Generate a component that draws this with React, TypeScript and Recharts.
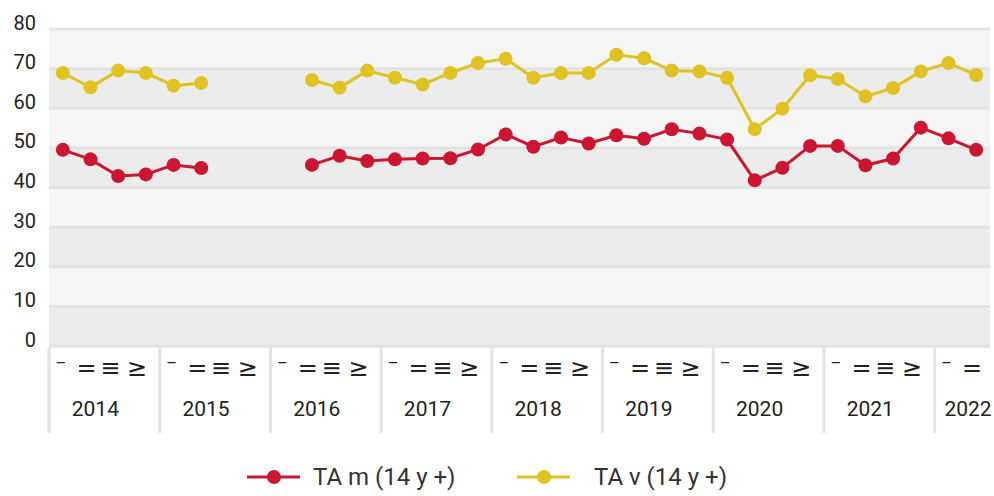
import React from 'react';
import { LineChart, Line, XAxis, YAxis, CartesianGrid, Legend } from 'recharts';

const years = ['2014', '2015', '2016', '2017', '2018', '2019', '2020', '2021', '2022'];
const quartersPerYear = [4, 4, 4, 4, 4, 4, 4, 4, 2];
const quarterSymbols = ['–', '=', '≡', '≥'];
const yTicks = [0, 10, 20, 30, 40, 50, 60, 70, 80];

// TA m (14 y +)
const taM = [
  49.5, 47.1, 42.9, 43.3, 45.7, 44.9, null, null, null, 45.7, 48.0, 46.7, 47.1, 47.3, 47.4, 49.6, 53.4,
  50.3, 52.6, 51.1, 53.2, 52.3, 54.7, 53.6, 52.1, 41.8, 45.0, 50.5, 50.5, 45.6, 47.3, 55.1, 52.4, 49.5,
];
// TA v (14 y +)
const taV = [
  68.9, 65.3, 69.5, 68.9, 65.7, 66.4, null, null, null, 67.1, 65.2, 69.5, 67.7, 66.0, 68.9, 71.4, 72.5,
  67.7, 68.9, 68.9, 73.5, 72.6, 69.5, 69.3, 67.7, 54.7, 59.9, 68.3, 67.4, 63.0, 65.1, 69.3, 71.4, 68.4,
];

const periods: { year: string; q: number; yearIdx: number }[] = [];
years.forEach((y, yi) => {
  for (let q = 0; q < quartersPerYear[yi]; q++) periods.push({ year: y, q, yearIdx: yi });
});

const data = periods.map((p, i) => ({
  period: `${p.year}-${p.q + 1}`,
  m: taM[i],
  v: taV[i],
}));

const W = 994;
const H = 496;
const LEFT = 49;
const RIGHT = 990;
const TOP = 29;
const PLOT_BOTTOM = 346;
const BW = (RIGHT - LEFT) / data.length;
const RED = '#cc1530';
const YELLOW = '#e0c222';
const FONT = 'Roboto, sans-serif';
const qdx = [-2, -4, -8, -9];

const XTick = (props: any) => {
  const { x, index } = props;
  const p = periods[index];
  if (!p) return null;
  const start = x - BW / 2;
  let yearX = start + 2 * BW - 9;
  yearX = Math.min(yearX, RIGHT - 22);
  return (
    <g>
      {p.q === 0 && (
        <line x1={start} x2={start} y1={PLOT_BOTTOM + 1.5} y2={433} stroke="#e3e3e3" strokeWidth={3} />
      )}
      <text
        x={x + qdx[p.q]}
        y={p.q === 0 ? 368 : 376}
        textAnchor="middle"
        fontSize={p.q === 0 ? 20 : 24}
        fill="#222"
        fontFamily="DejaVu Sans"
      >
        {quarterSymbols[p.q]}
      </text>
      {p.q === 0 && (
        <text x={yearX} y={416} textAnchor="middle" fontSize={21} fill="#222">
          {p.year}
        </text>
      )}
    </g>
  );
};

const YTick = (props: any) => {
  const { y, payload } = props;
  return (
    <text x={36} y={y + 0.5} textAnchor="end" fontSize={20} fill="#222">
      {payload.value}
    </text>
  );
};

const legendLayout = [
  { left: 247, gap: 13 },
  { left: 517, gap: 24 },
];

const LegendContent = (props: any) => {
  const items = props.payload || [];
  return (
    <div style={{ position: 'relative', height: 40, fontFamily: FONT }}>
      {items.map((it: any, i: number) => (
        <div
          key={it.value}
          style={{
            position: 'absolute',
            left: legendLayout[i].left,
            top: 0,
            display: 'flex',
            alignItems: 'center',
            height: 40,
          }}
        >
          <svg width={53} height={20}>
            <line x1={0} x2={53} y1={10} y2={10} stroke={it.color} strokeWidth={3} />
            <circle cx={27} cy={10} r={7} fill={it.color} />
          </svg>
          <span style={{ marginLeft: legendLayout[i].gap, fontSize: 24, color: '#333' }}>{it.value}</span>
        </div>
      ))}
    </div>
  );
};

export default function App() {
  return (
    <div style={{ position: 'absolute', left: 0, top: 0, background: '#fff' }}>
      <LineChart
        width={W}
        height={H}
        data={data}
        margin={{ top: TOP, right: W - RIGHT, bottom: H - PLOT_BOTTOM - 86, left: 0 }}
        style={{ fontFamily: FONT }}
      >
        <CartesianGrid
          vertical={false}
          stroke="#e3e3e3"
          strokeWidth={3}
          horizontalFill={['#f5f5f5', '#ececec']}
          fillOpacity={1}
        />
        <XAxis
          dataKey="period"
          scale="band"
          interval={0}
          height={86}
          tickLine={false}
          axisLine={{ stroke: '#e3e3e3', strokeWidth: 3 }}
          tick={<XTick />}
        />
        <YAxis
          width={LEFT}
          domain={[0, 80]}
          ticks={yTicks}
          tickLine={false}
          axisLine={false}
          tick={<YTick />}
        />
        <Legend
          layout="horizontal"
          verticalAlign="middle"
          align="center"
          wrapperStyle={{ left: 0, top: 457, width: W, height: 40 }}
          content={<LegendContent />}
        />
        <Line
          name="TA m (14 y +)"
          dataKey="m"
          stroke={RED}
          strokeWidth={3}
          dot={{ r: 7, fill: RED, stroke: 'none' }}
          activeDot={false}
          isAnimationActive={false}
        />
        <Line
          name="TA v (14 y +)"
          dataKey="v"
          stroke={YELLOW}
          strokeWidth={3}
          dot={{ r: 7, fill: YELLOW, stroke: 'none' }}
          activeDot={false}
          isAnimationActive={false}
        />
      </LineChart>
    </div>
  );
}
